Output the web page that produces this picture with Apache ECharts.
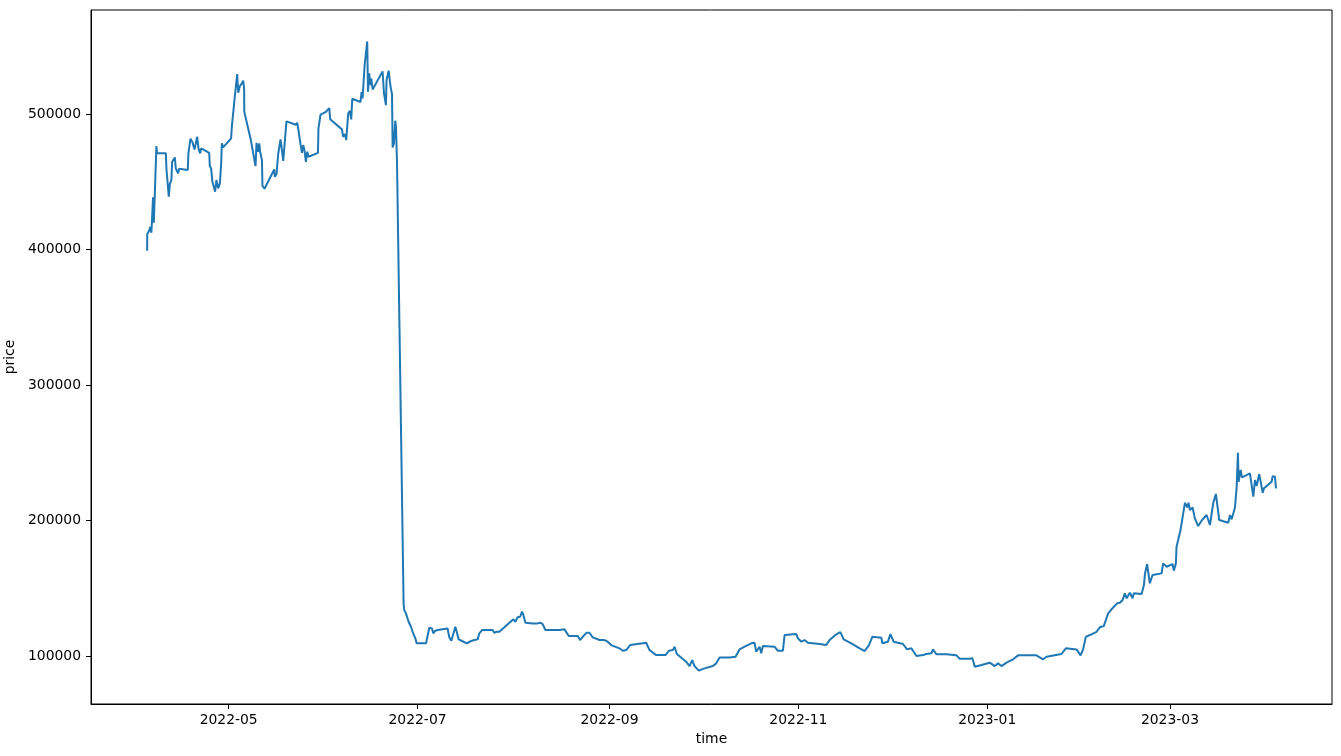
<!DOCTYPE html>
<html>
<head>
<meta charset="utf-8">
<script src="https://cdn.jsdelivr.net/npm/echarts@6/dist/echarts.min.js"></script>
<style>
html,body{margin:0;padding:0;background:#fff;}
#chart{width:1341px;height:756px;}
</style>
</head>
<body>
<div id="chart"></div>
<script>
const times = [
'2022-04-04 16:00','2022-04-04 17:00','2022-04-05 07:00','2022-04-05 17:00','2022-04-06 01:00','2022-04-06 14:00','2022-04-06 20:00','2022-04-07 16:00','2022-04-07 21:00','2022-04-10 17:00',
'2022-04-10 22:00','2022-04-11 16:00','2022-04-12 00:00','2022-04-12 12:00','2022-04-12 18:00','2022-04-13 15:00','2022-04-13 22:00','2022-04-14 16:00','2022-04-15 00:00','2022-04-17 19:00',
'2022-04-18 00:00','2022-04-18 16:00','2022-04-19 07:00','2022-04-19 23:00','2022-04-20 20:00','2022-04-21 06:00','2022-04-21 19:00','2022-04-22 03:00','2022-04-24 17:00','2022-04-24 22:00',
'2022-04-25 08:00','2022-04-25 18:00','2022-04-26 15:00','2022-04-27 01:00','2022-04-27 15:00','2022-04-28 04:00','2022-04-28 14:00','2022-04-28 19:00','2022-04-29 05:00','2022-05-01 19:00',
'2022-05-02 01:00','2022-05-02 21:00','2022-05-03 18:00','2022-05-04 02:00','2022-05-04 15:00','2022-05-05 06:00','2022-05-05 17:00','2022-05-06 00:00','2022-05-06 01:00','2022-05-08 04:00',
'2022-05-09 16:00','2022-05-10 00:00','2022-05-10 11:00','2022-05-10 21:00','2022-05-11 04:00','2022-05-11 18:00','2022-05-11 22:00','2022-05-12 14:00','2022-05-15 04:00','2022-05-15 17:00',
'2022-05-15 22:00','2022-05-16 11:00','2022-05-17 00:00','2022-05-17 18:00','2022-05-18 05:00','2022-05-18 15:00','2022-05-19 16:00','2022-05-22 17:00','2022-05-23 03:00','2022-05-23 13:00',
'2022-05-24 00:00','2022-05-24 16:00','2022-05-25 02:00','2022-05-25 12:00','2022-05-25 23:00','2022-05-26 09:00','2022-05-26 19:00','2022-05-29 20:00','2022-05-30 00:00','2022-05-30 16:00',
'2022-06-01 10:00','2022-06-01 22:00','2022-06-02 12:00','2022-06-02 19:00','2022-06-06 14:00','2022-06-07 00:00','2022-06-07 16:00','2022-06-07 23:00','2022-06-08 15:00','2022-06-09 04:00',
'2022-06-09 14:00','2022-06-09 22:00','2022-06-12 14:00','2022-06-12 22:00','2022-06-13 06:00','2022-06-13 21:00','2022-06-13 22:00','2022-06-14 18:00','2022-06-15 00:00','2022-06-15 10:00',
'2022-06-15 15:00','2022-06-16 01:00','2022-06-16 12:00','2022-06-17 03:00','2022-06-19 17:00','2022-06-20 04:00','2022-06-20 19:00','2022-06-21 00:00','2022-06-21 16:00','2022-06-22 07:00',
'2022-06-22 18:00','2022-06-22 23:00','2022-06-23 09:00','2022-06-23 19:00','2022-06-24 01:00','2022-06-24 09:00','2022-06-26 12:00','2022-06-26 17:00','2022-06-27 06:00','2022-06-28 03:00',
'2022-06-28 21:00','2022-06-29 10:00','2022-06-30 07:00','2022-06-30 17:00','2022-07-03 18:00','2022-07-03 22:00','2022-07-04 19:00','2022-07-05 16:00','2022-07-06 02:00','2022-07-06 18:00',
'2022-07-07 12:00','2022-07-07 19:00','2022-07-10 17:00','2022-07-11 06:00','2022-07-11 22:00','2022-07-12 13:00','2022-07-13 05:00','2022-07-13 18:00','2022-07-14 07:00','2022-07-15 09:00',
'2022-07-16 21:00','2022-07-18 07:00','2022-07-19 08:00','2022-07-19 22:00','2022-07-20 10:00','2022-07-20 23:00','2022-07-21 20:00','2022-07-25 06:00','2022-07-25 19:00','2022-07-26 13:00',
'2022-07-27 10:00','2022-07-29 01:00','2022-07-30 16:00','2022-07-31 23:00','2022-08-01 14:00','2022-08-02 08:00','2022-08-03 03:00','2022-08-03 18:00','2022-08-04 04:00','2022-08-04 20:00',
'2022-08-07 05:00','2022-08-08 19:00','2022-08-09 14:00','2022-08-10 10:00','2022-08-11 07:00','2022-08-15 20:00','2022-08-17 11:00','2022-08-18 20:00','2022-08-21 18:00','2022-08-22 12:00',
'2022-08-23 14:00','2022-08-24 15:00','2022-08-25 12:00','2022-08-26 14:00','2022-08-28 18:00','2022-08-30 09:00','2022-08-31 10:00','2022-09-01 13:00','2022-09-04 05:00','2022-09-05 07:00',
'2022-09-06 09:00','2022-09-07 16:00','2022-09-11 18:00','2022-09-12 20:00','2022-09-13 22:00','2022-09-16 02:00','2022-09-19 02:00','2022-09-20 04:00','2022-09-21 11:00','2022-09-22 00:00',
'2022-09-22 18:00','2022-09-25 18:00','2022-09-26 20:00','2022-09-27 17:00','2022-09-28 11:00','2022-09-29 20:00','2022-10-01 16:00','2022-10-04 09:00','2022-10-05 11:00','2022-10-06 13:00',
'2022-10-09 18:00','2022-10-11 17:00','2022-10-13 00:00','2022-10-14 15:00','2022-10-16 19:00','2022-10-17 20:00','2022-10-18 09:00','2022-10-19 11:00','2022-10-20 00:00','2022-10-20 13:00',
'2022-10-24 07:00','2022-10-25 09:00','2022-10-27 00:00','2022-10-27 13:00','2022-10-31 08:00','2022-10-31 20:00','2022-11-01 23:00','2022-11-03 00:00','2022-11-04 02:00','2022-11-07 20:00',
'2022-11-10 00:00','2022-11-11 02:00','2022-11-13 06:00','2022-11-14 13:00','2022-11-15 15:00','2022-11-18 02:00','2022-11-20 19:00','2022-11-22 10:00','2022-11-23 19:00','2022-11-24 21:00',
'2022-11-27 19:00','2022-11-28 03:00','2022-11-29 22:00','2022-11-30 17:00','2022-12-01 18:00','2022-12-04 19:00','2022-12-06 02:00','2022-12-07 12:00','2022-12-09 03:00','2022-12-11 06:00',
'2022-12-12 08:00','2022-12-13 23:00','2022-12-14 11:00','2022-12-15 14:00','2022-12-18 19:00','2022-12-22 01:00','2022-12-23 02:00','2022-12-26 08:00','2022-12-27 05:00','2022-12-27 23:00',
'2022-12-30 03:00','2023-01-01 19:00','2023-01-03 10:00','2023-01-04 12:00','2023-01-05 14:00','2023-01-07 05:00','2023-01-09 08:00','2023-01-10 23:00','2023-01-12 13:00','2023-01-16 21:00',
'2023-01-17 23:00','2023-01-19 00:00','2023-01-20 03:00','2023-01-24 23:00','2023-01-26 09:00','2023-01-29 20:00','2023-01-31 03:00','2023-01-31 23:00','2023-02-01 20:00','2023-02-03 03:00',
'2023-02-05 07:00','2023-02-06 08:00','2023-02-07 15:00','2023-02-08 07:00','2023-02-09 01:00','2023-02-10 03:00','2023-02-11 23:00','2023-02-12 20:00','2023-02-13 17:00','2023-02-14 10:00',
'2023-02-15 00:00','2023-02-16 01:00','2023-02-16 22:00','2023-02-17 08:00','2023-02-19 20:00','2023-02-20 14:00','2023-02-20 22:00','2023-02-21 15:00','2023-02-22 12:00','2023-02-23 09:00',
'2023-02-26 07:00','2023-02-26 19:00','2023-02-27 22:00','2023-03-01 20:00','2023-03-02 06:00','2023-03-02 22:00','2023-03-03 03:00','2023-03-04 10:00','2023-03-05 20:00','2023-03-06 14:00',
'2023-03-07 00:00','2023-03-07 11:00','2023-03-08 07:00','2023-03-09 01:00','2023-03-10 03:00','2023-03-11 05:00','2023-03-12 20:00','2023-03-13 22:00','2023-03-14 23:00','2023-03-15 20:00',
'2023-03-16 22:00','2023-03-19 20:00','2023-03-20 09:00','2023-03-20 22:00','2023-03-22 00:00','2023-03-22 13:00','2023-03-22 23:00','2023-03-23 04:00','2023-03-23 20:00','2023-03-24 06:00',
'2023-03-26 20:00','2023-03-27 22:00','2023-03-28 11:00','2023-03-29 00:00','2023-03-29 20:00','2023-03-30 23:00','2023-03-31 09:00','2023-04-02 20:00','2023-04-03 04:00','2023-04-03 22:00','2023-04-04 06:00'
];
const prices = [
399100,411400,413900,416800,412400,438500,419800,476400,471000,471000,
459200,439000,448300,451300,464800,468000,459900,456200,459600,458700,
471000,481800,479300,473900,483200,474700,471000,474700,471400,461600,
459900,450000,442700,451300,445200,448800,463600,478400,475400,482100,
491100,510300,529500,515700,520700,522700,524600,518200,501700,480800,
461600,478800,472200,478400,472200,466000,446900,444900,456700,459200,
453700,455700,470500,481300,473400,465500,494600,492100,493600,488200,
480800,471400,477100,472900,464800,472200,468500,471400,489400,499500,
501700,503000,504400,496100,488700,483200,485200,480800,500500,502400,
496100,511300,508900,516200,511600,510300,536200,553600,516500,530000,
521400,526300,518200,518700,531500,515300,506600,525100,532000,520100,
514800,475400,478400,495100,490600,463600,138400,133900,131500,125300,
121600,117900,113100,109400,109400,108100,120900,120400,116800,118700,
119200,120100,120400,113800,111300,116200,121600,122900,112300,111100,
109400,111100,111800,110600,112300,116800,119200,119200,117200,117900,
117900,121200,124600,127100,125300,128600,129000,132700,130300,124600,
124100,124100,124600,123600,119200,119200,119700,114800,114800,111800,
114800,117200,117200,113800,111800,111800,110600,108100,105700,103900,
104400,108100,109400,109800,104400,100700,100700,103900,104400,106900,
101500,95800,92600,97000,92600,89200,90900,92600,94600,99000,
99000,99500,104900,106900,109400,109800,103200,106900,102000,107400,
106900,103900,103900,115500,116200,113100,110600,111800,109800,108900,
108100,111800,116000,117700,112300,109400,105700,103700,108100,114200,
113500,109400,110600,116200,110600,108900,104900,105700,100000,100700,
101500,102000,104900,101300,101300,100500,98000,98000,98300,92100,
93400,95100,92600,94600,92600,95100,97600,100500,100500,100500,
99000,97600,99500,101500,105700,104900,100500,104900,114200,115500,
117900,121200,122100,126600,131500,134500,138900,139300,141300,146300,
142600,146700,142600,146300,145800,152200,160500,167900,153700,159800,
161000,168400,165900,167900,163000,168400,180700,193000,213100,209700,
213100,207700,209700,201600,195900,199900,204100,196700,212700,219600,
200400,198400,204100,200900,209700,224900,250000,228600,237300,231900,
234800,217600,229900,225500,234300,220500,223800,228600,232800,232300,223800
];
const xTickDates = ['2022-05-01','2022-07-01','2022-09-01','2022-11-01','2023-01-01','2023-03-01'];
const yTickValues = [100000,200000,300000,400000,500000];
const xRange = ['2022-03-17 13:00','2023-04-22 08:00'];
const yRange = [64600, 576800];

const toTs = s => +echarts.number.parseDate(s);
const xTicks = xTickDates.map(toTs);
const pad2 = n => (n < 10 ? '0' : '') + n;

const chart = echarts.init(document.getElementById('chart'), null, {renderer: 'canvas'});
const font = 'DejaVu Sans';
chart.setOption({
  animation: false,
  backgroundColor: '#ffffff',
  grid: {left: 91, right: 9, top: 10, bottom: 52, show: true, borderColor: '#000', borderWidth: 1, backgroundColor: 'transparent', containLabel: false, outerBoundsMode: 'none'},
  xAxis: {
    type: 'value',
    min: toTs(xRange[0]),
    max: toTs(xRange[1]),
    name: 'time',
    nameLocation: 'middle',
    nameGap: 27,
    nameTextStyle: {fontFamily: font, fontSize: 13.9, color: '#000'},
    axisLine: {show: true, onZero: false, lineStyle: {color: '#000', width: 1}},
    axisTick: {show: true, inside: false, length: 5, lineStyle: {color: '#000', width: 1}, customValues: xTicks},
    axisLabel: {
      show: true, margin: 9, color: '#000', fontFamily: font, fontSize: 13.9,
      customValues: xTicks,
      formatter: v => { const d = new Date(v); return d.getFullYear() + '-' + pad2(d.getMonth() + 1); }
    },
    splitLine: {show: false}
  },
  yAxis: {
    type: 'value',
    min: yRange[0],
    max: yRange[1],
    name: 'price',
    nameLocation: 'middle',
    nameGap: 67,
    nameRotate: 90,
    nameTextStyle: {fontFamily: font, fontSize: 13.9, color: '#000'},
    axisLine: {show: true, onZero: false, lineStyle: {color: '#000', width: 1}},
    axisTick: {show: true, inside: false, length: 5, lineStyle: {color: '#000', width: 1}, customValues: yTickValues},
    axisLabel: {show: true, margin: 10, color: '#000', fontFamily: font, fontSize: 13.9, customValues: yTickValues, formatter: v => String(v)},
    splitLine: {show: false}
  },
  series: [{
    type: 'line',
    data: times.map((t, i) => [toTs(t), prices[i]]),
    showSymbol: false,
    symbol: 'none',
    lineStyle: {color: '#1f77b4', width: 2},
    itemStyle: {color: '#1f77b4'},
    silent: true
  }]
});
</script>
</body>
</html>
